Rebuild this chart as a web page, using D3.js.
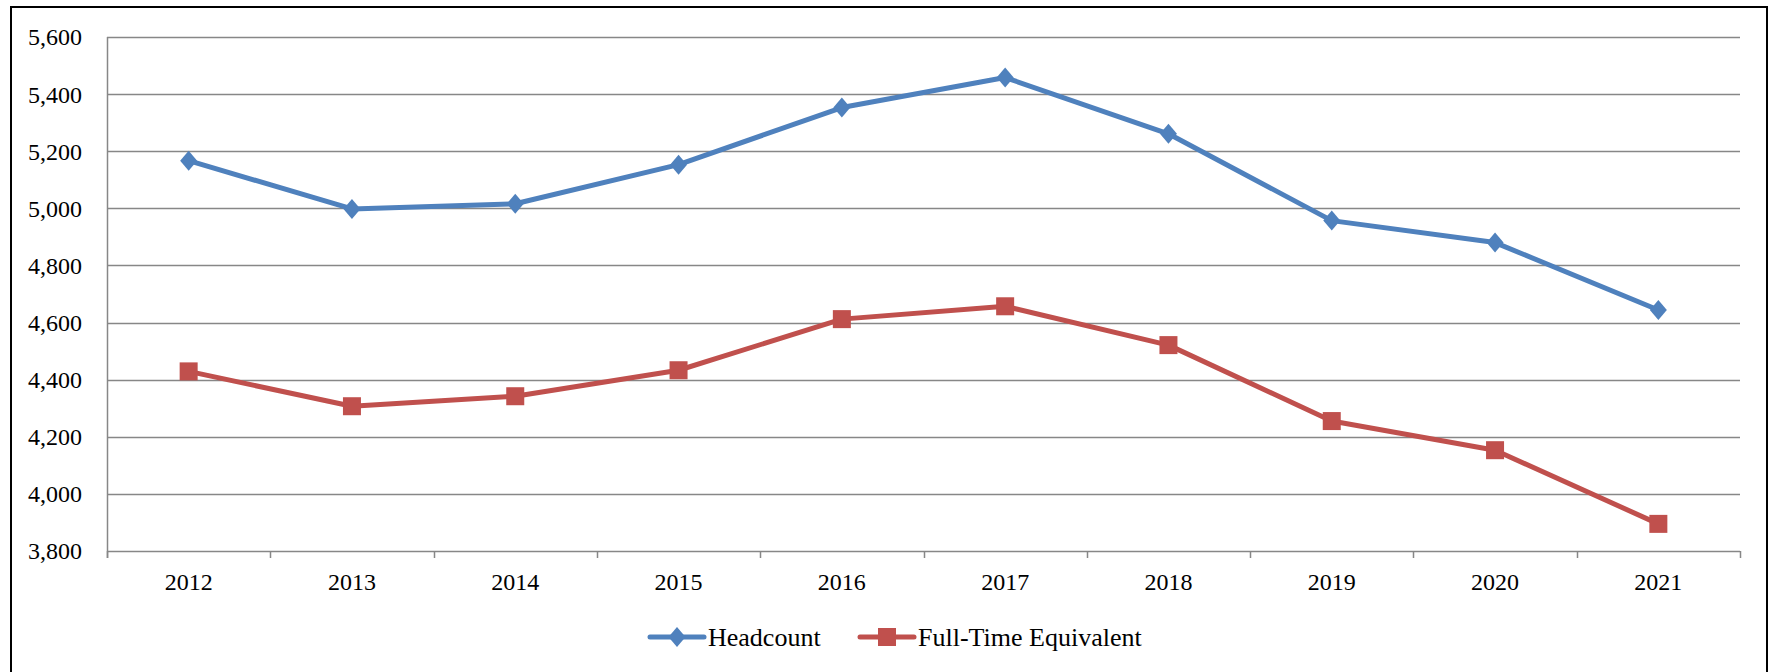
<!DOCTYPE html>
<html>
<head>
<meta charset="utf-8">
<script src="https://cdn.jsdelivr.net/npm/d3@7/dist/d3.min.js"></script>
<style>
  html, body { margin: 0; padding: 0; background: #fff; }
  svg { display: block; }
  text { font-family: "Liberation Serif", "DejaVu Serif", serif; fill: #000; }
</style>
</head>
<body>
<svg id="chart" width="1769" height="672"></svg>
<script>
const years = ["2012","2013","2014","2015","2016","2017","2018","2019","2020","2021"];
const headcount = [5167, 4998, 5016, 5153, 5353, 5458, 5261, 4957, 4880, 4644];
const fte = [4429, 4307, 4342, 4433, 4612, 4657, 4521, 4255, 4153, 3895];
const yTicks = [3800, 4000, 4200, 4400, 4600, 4800, 5000, 5200, 5400, 5600];
const seriesNames = ["Headcount", "Full-Time Equivalent"];
const seriesColors = ["#4F81BD", "#C0504D"];

const svg = d3.select("#chart");
const W = 1769, H = 672;
const plot = { left: 107, right: 1740, top: 37, bottom: 551 };

// outer border
svg.append("rect")
  .attr("x", 11).attr("y", 7)
  .attr("width", W - 13).attr("height", H + 20)
  .attr("fill", "none").attr("stroke", "#000").attr("stroke-width", 2);

const x = d3.scaleBand().domain(years).range([plot.left, plot.right]).padding(0);
const y = d3.scaleLinear().domain([3800, 5600]).range([plot.bottom, plot.top]);

// gridlines
svg.append("g").selectAll("line").data(yTicks).join("line")
  .attr("x1", plot.left).attr("x2", plot.right)
  .attr("y1", d => Math.round(y(d)) + 0.5).attr("y2", d => Math.round(y(d)) + 0.5)
  .attr("stroke", "#878787").attr("stroke-width", 1.5);

// y axis line
svg.append("line")
  .attr("x1", plot.left + 0.5).attr("x2", plot.left + 0.5)
  .attr("y1", plot.top).attr("y2", plot.bottom + 7)
  .attr("stroke", "#878787").attr("stroke-width", 1.5);

// y tick labels
svg.append("g").selectAll("text").data(yTicks).join("text")
  .attr("x", 82).attr("y", d => y(d))
  .attr("dy", "0.35em")
  .attr("text-anchor", "end")
  .attr("font-size", 24)
  .text(d => d3.format(",")(d));

// x axis ticks at band boundaries
const bounds = years.map(d => x(d)).concat([plot.right]);
svg.append("g").selectAll("line").data(bounds).join("line")
  .attr("x1", d => Math.round(d) + 0.5).attr("x2", d => Math.round(d) + 0.5)
  .attr("y1", plot.bottom).attr("y2", plot.bottom + 7)
  .attr("stroke", "#878787").attr("stroke-width", 1.5);

// x labels
svg.append("g").selectAll("text").data(years).join("text")
  .attr("x", d => x(d) + x.bandwidth() / 2)
  .attr("y", 582).attr("dy", "0.35em")
  .attr("text-anchor", "middle")
  .attr("font-size", 24)
  .text(d => d);

const cx = d => x(d) + x.bandwidth() / 2;
const line = d3.line().x(d => cx(d.year)).y(d => y(d.v));

const data = [headcount, fte].map(arr => years.map((yr, i) => ({ year: yr, v: arr[i] })));

function diamond(g, px, py, r, color) {
  g.append("path")
    .attr("d", `M${px},${py - r}L${px + r * 0.85},${py}L${px},${py + r}L${px - r * 0.85},${py}Z`)
    .attr("fill", color);
}
function square(g, px, py, s, color) {
  g.append("rect").attr("x", px - s / 2).attr("y", py - s / 2)
    .attr("width", s).attr("height", s).attr("fill", color);
}

data.forEach((ser, si) => {
  svg.append("path").datum(ser)
    .attr("d", line)
    .attr("fill", "none")
    .attr("stroke", seriesColors[si])
    .attr("stroke-width", 5)
    .attr("stroke-linejoin", "round")
    .attr("stroke-linecap", "round");
  const g = svg.append("g");
  ser.forEach(d => {
    if (si === 0) diamond(g, cx(d.year), y(d.v), 10, seriesColors[si]);
    else square(g, cx(d.year), y(d.v), 18, seriesColors[si]);
  });
});

// legend
const legY = 637;
const legItems = [
  { x0: 650, x1: 704, tx: 708 },
  { x0: 860, x1: 914, tx: 918 }
];
legItems.forEach((it, i) => {
  svg.append("line")
    .attr("x1", it.x0).attr("x2", it.x1)
    .attr("y1", legY).attr("y2", legY)
    .attr("stroke", seriesColors[i]).attr("stroke-width", 5)
    .attr("stroke-linecap", "round");
  const g = svg.append("g");
  const mx = (it.x0 + it.x1) / 2;
  if (i === 0) diamond(g, mx, legY, 10, seriesColors[i]);
  else square(g, mx, legY, 18, seriesColors[i]);
  svg.append("text")
    .attr("x", it.tx).attr("y", legY).attr("dy", "0.35em")
    .attr("font-size", 26)
    .text(seriesNames[i]);
});
</script>
</body>
</html>
